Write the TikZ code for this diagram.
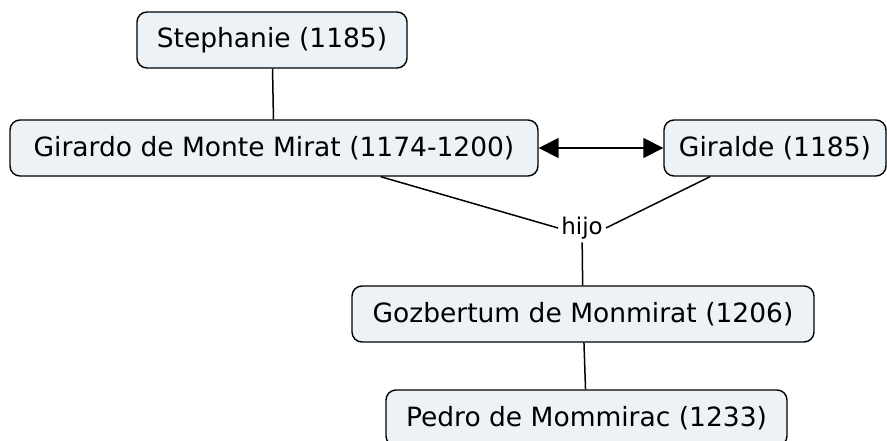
\documentclass[tikz,border=0pt]{standalone}
\usepackage{fontspec}
\setmainfont{DejaVu Sans}
\usetikzlibrary{arrows.meta,positioning}

\definecolor{boxfill}{RGB}{236,242,245}

\tikzset{
  concept/.style={draw, line width=1.4pt, rounded corners=10pt, fill=boxfill,
    minimum height=56pt, inner xsep=0pt, font=\fontsize{26.5}{30}\selectfont},
  link/.style={line width=1.5pt},
  linkword/.style={inner sep=3pt, font=\fontsize{23}{26}\selectfont}
}

\begin{document}
\begin{tikzpicture}[x=1pt,y=-1pt]

\useasboundingbox (0,0) rectangle (887,440);

% concepts
\node[concept, minimum width=270pt] (steph) at (272,40) {Stephanie (1185)};
\node[concept, minimum width=528pt] (girardo) at (274,148) {Girardo de Monte Mirat (1174-1200)};
\node[concept, minimum width=222pt] (giralde) at (775,148) {Giralde (1185)};
\node[concept, minimum width=462pt] (gozb) at (583,314) {Gozbertum de Monmirat (1206)};
\node[concept, minimum width=401pt] (pedro) at (586.5,418) {Pedro de Mommirac (1233)};

% linking phrase
\node[linkword] (hijo) at (582,228) {hijo};

% connectors
\draw[link] (steph) -- (girardo);
\draw[link, {Triangle[length=20pt,width=20pt]}-{Triangle[length=20pt,width=20pt]}] (girardo) -- (giralde);
\draw[link] (girardo.south east) ++(-158,0) coordinate (gs) -- (hijo.west);
\draw[link] (giralde.south) ++(-65,0) coordinate (rs) -- (hijo.east);
\draw[link] (hijo) -- (gozb);
\draw[link] (gozb) -- (pedro);

\end{tikzpicture}
\end{document}
